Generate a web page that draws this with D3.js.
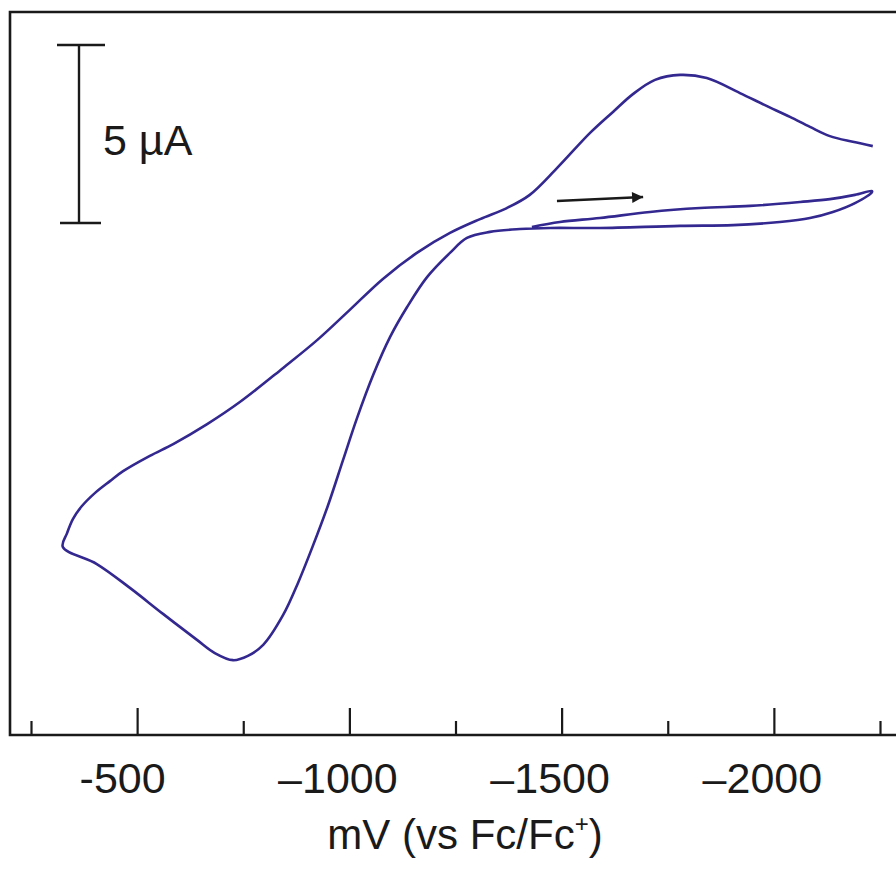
<!DOCTYPE html>
<html>
<head>
<meta charset="utf-8">
<script src="https://cdn.jsdelivr.net/npm/d3@7"></script>
<style>
  html, body { margin: 0; padding: 0; background: #fff; }
  svg text { font-family: "Liberation Sans", Arial, sans-serif; fill: #1a1a1a; }
</style>
</head>
<body>
<svg id="chart" width="896" height="871"></svg>
<script>
// Potential in mV vs Fc/Fc+, current in µA (cathodic drawn upward)

// sweep 1: start at -1430 mV, scan toward the negative switching potential
let sweep1E = [-1430, -1496, -1590, -1708, -1826, -1944, -2062, -2132, -2191, -2231],
    sweep1I = [-0.11, 0.03, 0.14, 0.31, 0.42, 0.48, 0.59, 0.67, 0.79, 0.90];

// sweep 2: back toward positive potentials, through the oxidation wave
let sweep2E = [-2231, -2191, -2139, -2085, -2014, -1904, -1779, -1590, -1473, -1402, -1331, -1277, -1237,
               -1183, -1136, -1096, -1056, -1018, -985, -950, -914, -879, -844, -797, -761,
               -726, -683, -641, -561, -483, -405, -325],
    sweep2I = [0.87, 0.56, 0.31, 0.14, 0.03, -0.06, -0.08, -0.14, -0.14, -0.17, -0.25, -0.42, -0.84,
               -1.52, -2.36, -3.20, -4.27, -5.48, -6.66, -7.92, -9.07, -10.11, -11.01, -11.85, -12.16,
               -12.28, -12.08, -11.71, -10.98, -10.25, -9.58, -9.10];

// sweep 3: from the positive switching potential back to the negative end
let sweep3E = [-335, -349, -370, -401, -436, -467, -530, -585, -665, -742, -844, -924, -1001,
               -1079, -1159, -1237, -1308, -1371, -1425, -1489, -1567, -1621, -1668, -1720,
               -1779, -1842, -1920, -1979, -2038, -2085, -2132, -2186, -2233],
    sweep3I = [-8.71, -8.31, -7.95, -7.58, -7.25, -6.97, -6.54, -6.21, -5.65, -5.03, -4.07, -3.29, -2.44,
               -1.57, -0.84, -0.28, 0.11, 0.42, 0.79, 1.54, 2.53, 3.12, 3.62, 4.02,
               4.16, 4.07, 3.65, 3.31, 2.98, 2.70, 2.44, 2.28, 2.16];

// axis ticks
let majorTicks  = [-500, -1000, -1500, -2000],
    majorLabels = ['-500', '\u20131000', '\u20131500', '\u20132000'],
    minorTicks  = [-250, -750, -1250, -1750, -2250];

// scan direction arrow and current scale bar (µA)
let arrowE   = [-1489, -1692],
    arrowI   = [0.62, 0.73],
    scaleBar = [0, 5];

let svg   = d3.select('#chart'),
    frame = { left: 10, top: 12, right: 896, bottom: 735 },
    ink   = '#1a1a1a',
    trace = '#33288f';

let x = d3.scaleLinear().domain([-250, -2250]).range([31, 880]),
    y = d3.scaleLinear().domain([0, 5]).range([223, 45]);

// Join the three sweeps into one continuous trace
let points = [];
[[sweep1E, sweep1I], [sweep2E, sweep2I], [sweep3E, sweep3I]].forEach(([es, is]) => {
  es.forEach((e, k) => points.push([e, is[k]]));
});

let line = d3.line()
    .x(d => x(d[0]))
    .y(d => y(d[1]))
    .curve(d3.curveCatmullRom.alpha(0.5));

svg.append('path')
    .datum(points)
    .attr('d', line)
    .attr('fill', 'none')
    .attr('stroke', trace)
    .attr('stroke-width', 2.6)
    .attr('stroke-linejoin', 'round');

// Frame: left, top and bottom edges only
svg.append('path')
    .attr('d', `M${frame.right},${frame.top}H${frame.left}V${frame.bottom}H${frame.right}`)
    .attr('fill', 'none')
    .attr('stroke', ink)
    .attr('stroke-width', 2.6);

// Bottom axis, ticks pointing inward
let majorAxis = d3.axisBottom(x)
    .tickValues(majorTicks)
    .tickSize(-27)
    .tickPadding(27)
    .tickFormat((d, k) => majorLabels[k]);

let gMajor = svg.append('g')
    .attr('transform', `translate(0,${frame.bottom})`)
    .call(majorAxis);

gMajor.select('.domain').remove();
gMajor.selectAll('line').attr('stroke', ink).attr('stroke-width', 2.2);
gMajor.selectAll('text')
    .attr('font-size', 43)
    .attr('dx', (d, k) => k === 0 ? -15 : -12)
    .style('font-family', '"Liberation Sans", Arial, sans-serif')
    .attr('fill', ink);

let gMinor = svg.append('g')
    .attr('transform', `translate(0,${frame.bottom})`)
    .call(d3.axisBottom(x).tickValues(minorTicks).tickSize(-14).tickFormat(''));

gMinor.select('.domain').remove();
gMinor.selectAll('line').attr('stroke', ink).attr('stroke-width', 2.2);

// Axis title
let title = svg.append('text')
    .attr('x', 465)
    .attr('y', 849)
    .attr('text-anchor', 'middle')
    .attr('font-size', 42);
title.append('tspan').text('mV (vs Fc/Fc');
title.append('tspan').text('+').attr('font-size', 24).attr('dy', -17);
title.append('tspan').text(')').attr('dy', 17);

// Scale bar
let barX = 79;
svg.append('line')
    .attr('x1', barX).attr('x2', barX)
    .attr('y1', y(scaleBar[0])).attr('y2', y(scaleBar[1]))
    .attr('stroke', ink).attr('stroke-width', 2.4);
svg.append('line')
    .attr('x1', 57).attr('x2', 105)
    .attr('y1', y(scaleBar[1])).attr('y2', y(scaleBar[1]))
    .attr('stroke', ink).attr('stroke-width', 2.4);
svg.append('line')
    .attr('x1', 60).attr('x2', 101)
    .attr('y1', y(scaleBar[0])).attr('y2', y(scaleBar[0]))
    .attr('stroke', ink).attr('stroke-width', 2.4);
svg.append('text')
    .attr('x', 103)
    .attr('y', 155)
    .attr('font-size', 43)
    .text('5 \u00b5A');

// Scan direction arrow
svg.append('defs').append('marker')
    .attr('id', 'head')
    .attr('viewBox', '0 0 10 10')
    .attr('refX', 10).attr('refY', 5)
    .attr('markerWidth', 9.5).attr('markerHeight', 4.6)
    .attr('markerUnits', 'strokeWidth')
    .attr('orient', 'auto')
  .append('path')
    .attr('d', 'M0,0L10,5L0,10z')
    .attr('fill', ink);

svg.append('line')
    .attr('x1', x(arrowE[0])).attr('y1', y(arrowI[0]))
    .attr('x2', x(arrowE[1])).attr('y2', y(arrowI[1]))
    .attr('stroke', ink)
    .attr('stroke-width', 2.4)
    .attr('marker-end', 'url(#head)');
</script>
</body>
</html>
